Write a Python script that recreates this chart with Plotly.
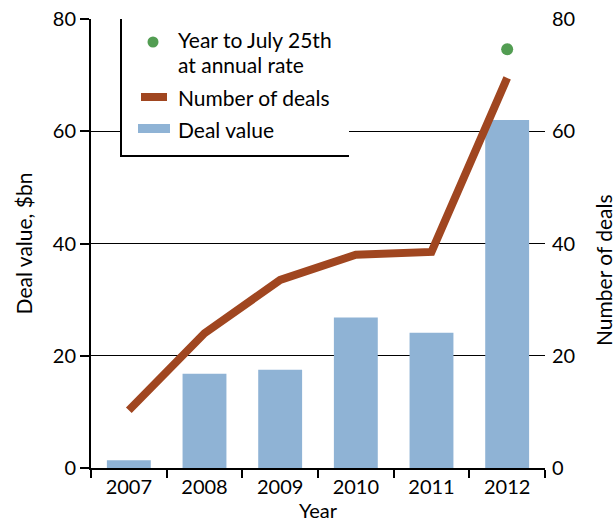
import plotly.graph_objects as go

# Chart data
years = ["2007", "2008", "2009", "2010", "2011", "2012"]
deal_value_bn = [1.4, 16.8, 17.5, 26.8, 24.1, 62.0]
number_of_deals = [10.3, 24.0, 33.5, 38.0, 38.5, 69.5]
annual_rate_year = ["2012"]
annual_rate_deals = [74.6]

left_ticks = [0, 20, 40, 60, 80]

BAR_BLUE = "rgb(143,179,213)"
LINE_BROWN = "rgb(160,70,32)"
DOT_GREEN = "rgb(82,157,82)"
FONT = "Lato"

W, H = 615, 524
L, R, T, B = 91, 70, 19, 56
PW, PH = W - L - R, H - T - B


def px(x):
    return (x - L) / PW


def py(y):
    return (H - B - y) / PH


fig = go.Figure()

fig.add_trace(go.Bar(
    x=years, y=deal_value_bn, name="Deal value",
    marker=dict(color=BAR_BLUE, line=dict(width=0)),
    yaxis="y", showlegend=False,
))
fig.add_trace(go.Scatter(
    x=years, y=number_of_deals, name="Number of deals",
    mode="lines", line=dict(color=LINE_BROWN, width=8),
    yaxis="y2", showlegend=False,
))
fig.add_trace(go.Scatter(
    x=annual_rate_year, y=annual_rate_deals, name="Year to July 25th at annual rate",
    mode="markers", marker=dict(color=DOT_GREEN, size=12),
    yaxis="y2", showlegend=False,
))

# Key box: white panel with left and bottom rules
shapes = [
    dict(type="rect", xref="paper", yref="paper",
         x0=px(122), x1=px(349), y0=py(155), y1=py(20.5),
         fillcolor="white", line=dict(width=0), layer="above"),
    dict(type="line", xref="paper", yref="paper",
         x0=px(121), x1=px(121), y0=py(157), y1=py(19),
         line=dict(color="black", width=2), layer="above"),
    dict(type="line", xref="paper", yref="paper",
         x0=px(120), x1=px(349), y0=py(156), y1=py(156),
         line=dict(color="black", width=2), layer="above"),
    dict(type="circle", xref="paper", yref="paper",
         x0=px(147.5), x1=px(158.5), y0=py(47.5), y1=py(36.5),
         fillcolor=DOT_GREEN, line=dict(width=0), layer="above"),
    dict(type="line", xref="paper", yref="paper",
         x0=px(141), x1=px(167), y0=py(97), y1=py(97),
         line=dict(color=LINE_BROWN, width=8), layer="above"),
    dict(type="rect", xref="paper", yref="paper",
         x0=px(138), x1=px(170), y0=py(133), y1=py(124),
         fillcolor=BAR_BLUE, line=dict(width=0), layer="above"),
]

key_font = dict(family=FONT, size=21, color="black")


def key_text(text, y):
    return dict(text=text, xref="paper", yref="paper",
                x=px(176), y=py(y), xanchor="left", yanchor="middle",
                showarrow=False, align="left", font=key_font)


annotations = [
    key_text("Year to July 25th", 40),
    key_text("at annual rate", 64),
    key_text("Number of deals", 97),
    key_text("Deal value", 129),
    dict(text="Number of deals", xref="paper", yref="paper",
         x=px(603), y=py(270), xanchor="center", yanchor="middle",
         textangle=-90, showarrow=False, font=dict(family=FONT, size=21, color="black")),
    dict(text="Year", xref="paper", yref="paper",
         x=px(318), y=py(510), xanchor="center", yanchor="middle",
         showarrow=False, font=dict(family=FONT, size=20, color="black")),
]

fig.update_layout(
    width=W, height=H,
    margin=dict(l=L, r=R, t=T, b=B, pad=0, autoexpand=False),
    paper_bgcolor="white", plot_bgcolor="white",
    font=dict(family=FONT, size=20, color="black"),
    bargap=0.42,
    showlegend=False,
    shapes=shapes,
    annotations=annotations,
    xaxis=dict(
        type="category", categoryorder="array", categoryarray=years,
        range=[-0.5, 5.5], automargin=False,
        tickson="boundaries", ticks="outside", ticklen=8, tickwidth=2, tickcolor="black",
        showline=True, linecolor="black", linewidth=2,
        showgrid=False, zeroline=False,
        tickfont=dict(family=FONT, size=20),
    ),
    yaxis=dict(
        range=[0, 80], tickvals=left_ticks, automargin=False,
        ticks="outside", ticklen=9, tickwidth=1.5, tickcolor="black",
        showline=True, linecolor="black", linewidth=2,
        showgrid=True, gridcolor="black", gridwidth=1,
        zeroline=False,
        tickfont=dict(family=FONT, size=20),
        title=dict(text="Deal value, $bn", font=dict(family=FONT, size=21), standoff=14),
    ),
    yaxis2=dict(
        range=[0, 80], tickvals=left_ticks, automargin=False,
        overlaying="y", side="right",
        showline=False, showgrid=False, zeroline=False,
        ticks="", ticklabelstandoff=6,
        tickfont=dict(family=FONT, size=20),
    ),
)

fig.write_html("out.html")
